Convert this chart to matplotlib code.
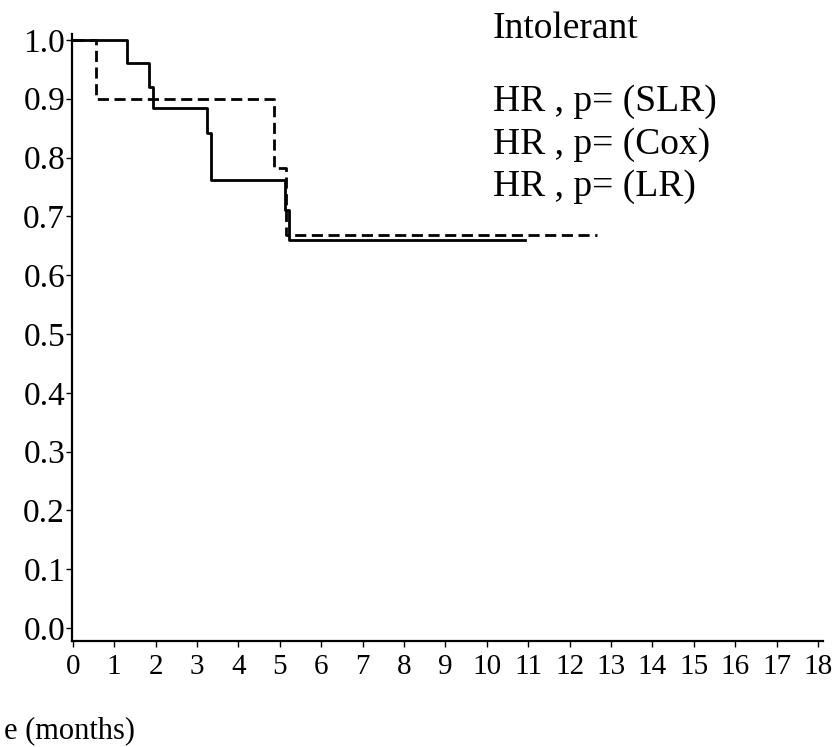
import matplotlib
matplotlib.use("Agg")
import matplotlib.pyplot as plt
import numpy as np

# Kaplan-Meier style steps (months, survival)
solid_t = [0, 1.30, 1.84, 1.94, 3.25, 3.33, 5.12, 5.22, 10.92]
solid_s = [1.00, 0.96, 0.92, 0.884, 0.842, 0.762, 0.711, 0.66, 0.66]

dash_t = [0, 0.56, 4.85, 5.14, 12.66]
dash_s = [1.00, 0.90, 0.783, 0.668, 0.668]

yticks = [0.0, 0.1, 0.2, 0.3, 0.4, 0.5, 0.6, 0.7, 0.8, 0.9, 1.0]
xticks = list(range(0, 19))

title = "Intolerant"
notes = ["HR , p= (SLR)", "HR , p= (Cox)", "HR , p= (LR)"]
xlab = "e (months)"   # left part of the label is cut off in the scan

plt.rcParams['font.family'] = ['Liberation Serif', 'DejaVu Serif']

fig = plt.figure(figsize=(8.34, 7.47), dpi=100)
ax = fig.add_axes([0.0863, 0.1419, 0.9005, 0.8126])

ax.step(solid_t, solid_s, where='post', color='black', lw=2.0)
ax.step(dash_t, dash_s, where='post', color='black', lw=2.0, linestyle=(0, (4, 2)))

ax.set_xlim(-0.02, 18.12)
ax.set_ylim(-0.022, 1.01)
ax.set_yticks(yticks)
ax.set_yticklabels(['{:.1f}'.format(v) for v in yticks], fontsize=24)
ax.set_xticks(xticks)
ax.set_xticklabels([str(v) for v in xticks], fontsize=21)

for s in ['top', 'right']:
    ax.spines[s].set_visible(False)
for s in ['left', 'bottom']:
    ax.spines[s].set_linewidth(1.6)

ax.tick_params(axis='y', direction='out', length=4, width=1, pad=1)
ax.tick_params(axis='x', direction='out', length=4, width=1, pad=5)

fig.text(0.591, 1 - 38 / 747, title, fontsize=27, va='baseline', ha='left')
base = [111, 154, 196]
for txt, b in zip(notes, base):
    fig.text(0.591, 1 - b / 747, txt, fontsize=27, va='baseline', ha='left')

fig.text(4 / 834, 1 - 738 / 747, xlab, fontsize=22, va='baseline', ha='left')

plt.savefig('out.png', dpi=100)
